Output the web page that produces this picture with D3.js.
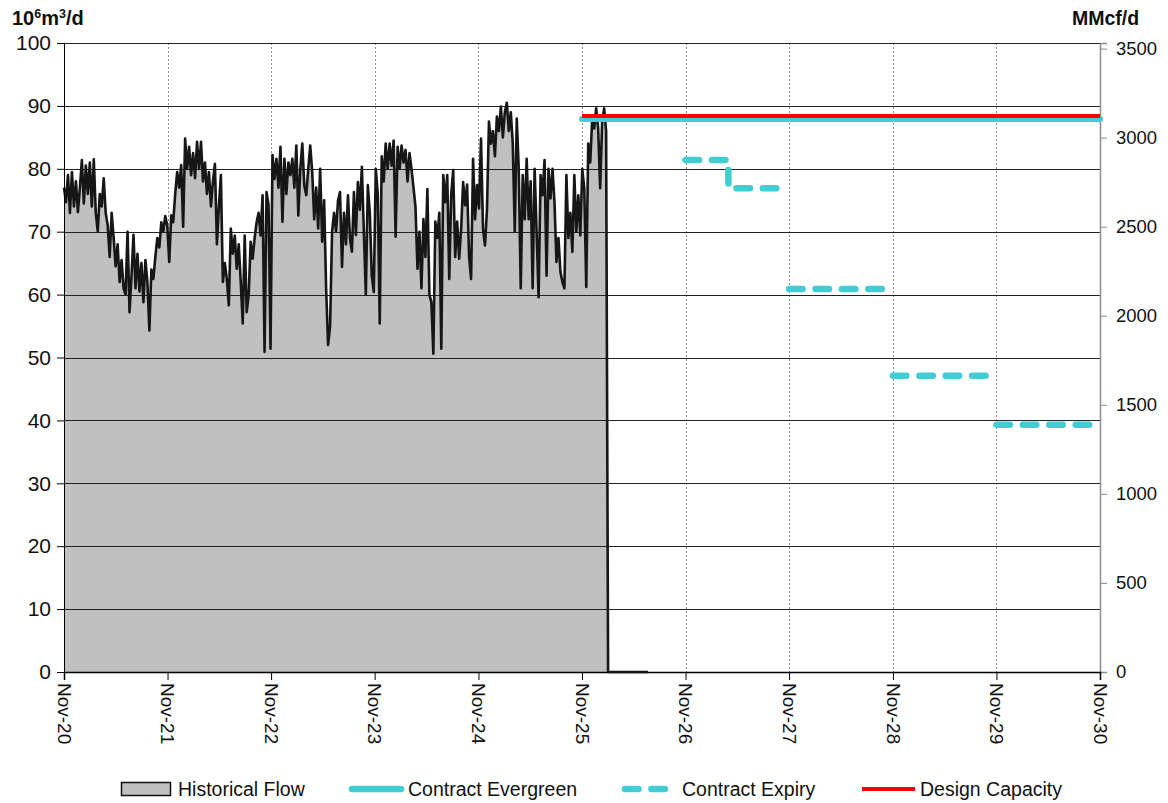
<!DOCTYPE html>
<html>
<head>
<meta charset="utf-8">
<script src="https://cdn.jsdelivr.net/npm/d3@7"></script>
<style>
  html, body { margin: 0; padding: 0; background: #fff; }
  svg { display: block; font-family: "Liberation Sans", Arial, sans-serif; }
</style>
</head>
<body>
<svg id="chart" width="1168" height="803"></svg>
<script>
// ---- data -------------------------------------------------------------
// Historical flow, 10^6 m3/d, one reading per week starting 1 Nov 2020
const flowStart = "2020-11-01";
const flowStepDays = 7;
const flowValues = [
  77, 74.7, 79, 73, 79.5, 74, 78, 73.1, 77, 81.4,
  74.5, 80.5, 76, 81, 74, 81.5, 73, 70, 76, 74,
  78.5, 73, 71, 66, 73, 69, 64.5, 68, 62, 65.5,
  61, 60, 70, 57.2, 63, 69.5, 61, 66.5, 60.5, 65,
  58.8, 65.5, 62, 54.3, 64, 62.5, 66, 69, 67.5, 71.5,
  70, 72.5, 71, 65.2, 72.6, 71.5, 76, 79.5, 77, 80.6,
  70.8, 84.8, 80, 83.5, 79, 82.5, 78.5, 84.3, 80, 84.3,
  78, 81, 76, 79.5, 74, 78, 80.8, 68, 74, 79,
  62, 65, 62.5, 58.3, 70.5, 66.5, 69.4, 64.1, 68, 62,
  55.4, 69.4, 57.2, 60, 68.4, 65.7, 69, 71.5, 73, 69.4,
  75.8, 50.9, 76.3, 74.2, 51.4, 82.2, 78.4, 81.6, 77, 83.5,
  71.6, 81.6, 76, 81, 79, 81.6, 77, 83.7, 72.6, 80,
  84, 77.4, 75.8, 80, 83.7, 79.5, 72, 77, 70.5, 80,
  68.4, 75, 61, 52, 55, 70, 73, 70, 75, 76.3,
  64.4, 73, 68, 75.8, 69, 66.8, 76.3, 69.5, 77.9, 73.5,
  80.3, 70, 60, 77.4, 73, 63, 60.4, 80, 76, 55.4,
  82, 78, 84, 80, 84, 80.5, 84.5, 69.2, 83.5, 80,
  83.7, 81, 83, 78, 82.5, 80, 77, 74, 64.1, 70,
  61, 72, 66, 76.8, 60, 58.8, 50.6, 71.6, 69, 73,
  51.4, 79, 74.7, 79, 62.5, 76, 79.8, 66, 71.6, 65.7,
  70.5, 77.9, 74.2, 77.5, 66, 62.5, 81.6, 72, 77.4, 73.7,
  84.8, 70.5, 67.8, 73.5, 87.5, 84, 86, 82, 88.3, 86,
  89.9, 85, 89, 90.5, 86, 89, 84, 70, 88, 80,
  61, 79, 72, 81.6, 72, 78, 61, 80, 70, 59.6,
  79, 75.8, 81.4, 63, 80, 75.3, 80, 74.7, 65.2, 69,
  63.6, 62, 61, 79, 69, 73, 66.8, 79, 70, 75.8,
  69.4, 80, 76.9, 61.2, 84, 81, 88, 86.4, 89.6, 86.4,
  76.9, 87.5, 89.6, 86, 0, 0, 0, 0, 0, 0,
  0, 0, 0, 0, 0, 0, 0, 0, 0, 0,
  0, 0, 0, 0, 0
];

// Contract evergreen and design capacity (flat from Nov-25)
const evergreenPeriod = ["2025-11-01", "2030-11-01"];
const evergreenValue = 87.9;
const capacityPeriod = ["2025-11-01", "2030-11-01"];
const capacityValue = 88.4;

// Contract expiry profile: each group is a run of [date, value] points
const expiryGroups = [
  [["2026-11-01", 81.4], ["2027-04-01", 81.4], ["2027-04-01", 76.9], ["2027-10-01", 76.9]],
  [["2027-11-01", 60.9], ["2028-10-01", 60.9]],
  [["2028-11-01", 47.1], ["2029-10-01", 47.1]],
  [["2029-11-01", 39.3], ["2030-10-01", 39.3]]
];

const xTickDates = ["2020-11-01", "2021-11-01", "2022-11-01", "2023-11-01", "2024-11-01",
  "2025-11-01", "2026-11-01", "2027-11-01", "2028-11-01", "2029-11-01", "2030-11-01"];
const leftTicks = [0, 10, 20, 30, 40, 50, 60, 70, 80, 90, 100];
const rightTicks = [0, 500, 1000, 1500, 2000, 2500, 3000, 3500];
const mcfPerMillionM3 = 35.3147;

const legendLabels = ["Historical Flow", "Contract Evergreen", "Contract Expiry", "Design Capacity"];

// ---- setup ------------------------------------------------------------
const parse = d3.utcParse("%Y-%m-%d");
const fmt = d3.utcFormat("%b-%y");
const plot = { left: 64, right: 1100, top: 43, bottom: 672 };
const CYAN = "#42CDD4", RED = "#FF0000";

const x = d3.scaleUtc()
  .domain([parse(xTickDates[0]), parse(xTickDates[xTickDates.length - 1])])
  .range([plot.left, plot.right]);
const y = d3.scaleLinear().domain([0, 100]).range([plot.bottom, plot.top]);
const yR = d3.scaleLinear().domain([0, 100 * mcfPerMillionM3]).range([plot.bottom, plot.top]);

const t0 = parse(flowStart);
const flow = flowValues.map((v, i) => ({ date: d3.utcDay.offset(t0, i * flowStepDays), value: v }));
const lastPositive = d3.max(flow, (d, i) => d.value > 0 ? i : -1);
const flowArea = flow.slice(0, lastPositive + 2);

const svg = d3.select("#chart");

// ---- grid -------------------------------------------------------------
svg.append("g")
  .selectAll("line")
  .data(xTickDates.slice(1, -1).map(parse))
  .join("line")
  .attr("x1", d => Math.round(x(d)) + 0.5).attr("x2", d => Math.round(x(d)) + 0.5)
  .attr("y1", plot.top).attr("y2", plot.bottom)
  .attr("stroke", "#8a8a8a").attr("stroke-width", 1).attr("stroke-dasharray", "2,2");

// ---- historical flow --------------------------------------------------
svg.append("path")
  .datum(flowArea)
  .attr("fill", "#C0C0C0")
  .attr("d", d3.area().x(d => x(d.date)).y0(y(0)).y1(d => y(d.value)));

svg.append("g")
  .selectAll("line")
  .data(leftTicks.slice(1))
  .join("line")
  .attr("x1", plot.left).attr("x2", plot.right)
  .attr("y1", d => Math.round(y(d)) + 0.5).attr("y2", d => Math.round(y(d)) + 0.5)
  .attr("stroke", "#222").attr("stroke-width", 1);

svg.append("path")
  .datum(flow)
  .attr("fill", "none")
  .attr("stroke", "#161616")
  .attr("stroke-width", 2.6)
  .attr("stroke-linejoin", "round")
  .attr("d", d3.line().x(d => x(d.date)).y(d => y(d.value)));

// ---- axes -------------------------------------------------------------
const leftAxis = svg.append("g")
  .attr("transform", `translate(${plot.left},0)`)
  .call(d3.axisLeft(y).tickValues(leftTicks).tickSize(7).tickPadding(6).tickFormat(d3.format("d")));
leftAxis.select(".domain").attr("stroke", "#000");
leftAxis.selectAll(".tick line").attr("stroke", "#000");
leftAxis.selectAll("text").attr("font-size", 21).attr("fill", "#111").attr("font-family", null);

const rightAxis = svg.append("g")
  .attr("transform", `translate(${plot.right},0)`)
  .call(d3.axisRight(yR).tickValues(rightTicks).tickSize(7).tickPadding(9).tickFormat(d3.format("d")));
rightAxis.select(".domain").attr("stroke", "#8c8c8c").attr("stroke-width", 1.5);
rightAxis.selectAll(".tick line").attr("stroke", "#8c8c8c");
rightAxis.selectAll("text").attr("font-size", 18.5).attr("fill", "#111").attr("font-family", null);

const bottomAxis = svg.append("g")
  .attr("transform", `translate(0,${plot.bottom})`)
  .call(d3.axisBottom(x).tickValues(xTickDates.map(parse)).tickSize(8).tickFormat(fmt));
bottomAxis.select(".domain").attr("stroke", "#000").attr("stroke-width", 1.5);
bottomAxis.selectAll(".tick line").attr("stroke", "#000");
bottomAxis.selectAll("text")
  .attr("font-size", 19).attr("fill", "#111").attr("font-family", null)
  .attr("text-anchor", "start")
  .attr("transform", "rotate(90)")
  .attr("x", 11).attr("y", 0).attr("dy", "0.36em");
svg.selectAll(".domain").attr("fill", "none");

// zero-flow tail sits on top of the axis line
svg.append("path")
  .datum(flow.slice(lastPositive + 1))
  .attr("fill", "none").attr("stroke", "#161616").attr("stroke-width", 2)
  .attr("d", d3.line().x(d => x(d.date)).y(d => y(d.value)));

// ---- contract lines ---------------------------------------------------
svg.append("line")
  .attr("x1", x(parse(evergreenPeriod[0]))).attr("x2", x(parse(evergreenPeriod[1])))
  .attr("y1", y(evergreenValue)).attr("y2", y(evergreenValue))
  .attr("stroke", CYAN).attr("stroke-width", 6).attr("stroke-linecap", "round");

svg.append("line")
  .attr("x1", x(parse(capacityPeriod[0]))).attr("x2", x(parse(capacityPeriod[1])))
  .attr("y1", y(capacityValue)).attr("y2", y(capacityValue))
  .attr("stroke", RED).attr("stroke-width", 4);

const expiryLine = d3.line().x(d => x(parse(d[0]))).y(d => y(d[1]));
svg.append("g")
  .selectAll("path")
  .data(expiryGroups)
  .join("path")
  .attr("fill", "none")
  .attr("stroke", CYAN).attr("stroke-width", 6.5)
  .attr("stroke-linecap", "round").attr("stroke-linejoin", "round")
  .attr("stroke-dasharray", "13.5,12.9")
  .attr("d", expiryLine);

// ---- axis titles ------------------------------------------------------
const unitL = svg.append("text").attr("x", 12).attr("y", 25)
  .attr("font-size", 20).attr("font-weight", "bold").attr("fill", "#111");
unitL.append("tspan").text("10");
unitL.append("tspan").text("6").attr("font-size", 12.5).attr("dy", -7.5);
unitL.append("tspan").text("m").attr("dy", 7.5);
unitL.append("tspan").text("3").attr("font-size", 12.5).attr("dy", -7.5);
unitL.append("tspan").text("/d").attr("dy", 7.5);

svg.append("text").attr("x", 1072).attr("y", 25)
  .attr("font-size", 19.5).attr("font-weight", "bold").attr("fill", "#111")
  .text("MMcf/d");

// ---- legend -----------------------------------------------------------
const ly = 789;
const legend = svg.append("g").attr("font-size", 19.5).attr("fill", "#111");
const legendSymbols = [
  g => g.append("rect").attr("x", 121.5).attr("y", ly - 6.5).attr("width", 49).attr("height", 13)
        .attr("fill", "#C0C0C0").attr("stroke", "#111").attr("stroke-width", 1.5),
  g => g.append("line").attr("x1", 352).attr("x2", 401).attr("y1", ly).attr("y2", ly)
        .attr("stroke", CYAN).attr("stroke-width", 6.5).attr("stroke-linecap", "round"),
  g => g.append("line").attr("x1", 625).attr("x2", 666).attr("y1", ly).attr("y2", ly)
        .attr("stroke", CYAN).attr("stroke-width", 6.5).attr("stroke-linecap", "round")
        .attr("stroke-dasharray", "13.5,12.9"),
  g => g.append("line").attr("x1", 862).attr("x2", 915).attr("y1", ly).attr("y2", ly)
        .attr("stroke", RED).attr("stroke-width", 4)
];
const legendTextX = [178, 408, 682, 920];
legendLabels.forEach((label, i) => {
  const g = legend.append("g");
  legendSymbols[i](g);
  g.append("text").attr("x", legendTextX[i]).attr("y", ly).attr("dy", "0.35em").text(label);
});
</script>
</body>
</html>
